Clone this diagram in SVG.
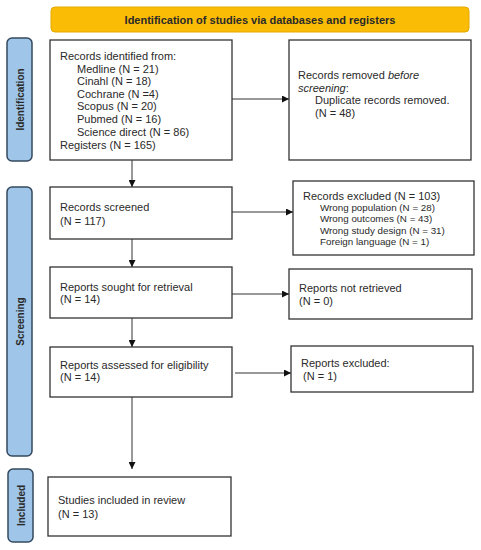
<svg xmlns="http://www.w3.org/2000/svg" width="481" height="550" viewBox="0 0 481 550">
<style>
text{font-family:"Liberation Sans",Arial,sans-serif;fill:#2a2a2a}
.box{fill:#fff;stroke:#333;stroke-width:1.3}
.side{fill:#9fc5e8;stroke:#34495e;stroke-width:1.5}
.lbl{font-size:10px;font-weight:bold;text-anchor:middle}
.t{font-size:11px}
.s{font-size:9.8px}
.c{fill:none;stroke:#333;stroke-width:1}
</style>
<defs>
<marker id="ah" viewBox="0 0 10 10" refX="10" refY="5" markerWidth="7" markerHeight="7" markerUnits="userSpaceOnUse" orient="auto">
<path d="M0,0L10,5L0,10z" fill="#111"/>
</marker>
</defs>
<g id="banner">
<rect x="51" y="7" width="418" height="25" rx="4" fill="#fbbc05" stroke="#e3a900" stroke-width="1"/>
<text x="260" y="24" class="lbl" style="font-size:11px">Identification of studies via databases and registers</text>
</g>
<g id="side-identification">
<rect x="7" y="38" width="25" height="123" rx="5" class="side"/>
<text class="lbl" transform="translate(23.5,99.5) rotate(-90)">Identification</text>
</g>
<g id="side-screening">
<rect x="7" y="187" width="25" height="269" rx="5" class="side"/>
<text class="lbl" transform="translate(23.5,321.5) rotate(-90)">Screening</text>
</g>
<g id="side-included">
<rect x="8" y="469" width="25" height="73" rx="5" class="side"/>
<text class="lbl" transform="translate(24.5,505.5) rotate(-90)">Included</text>
</g>
<g id="records-identified">
<rect x="50" y="40" width="182" height="120" class="box"/>
<text class="t" x="60" y="60">Records identified from:</text>
<text class="t" x="77" y="73">Medline (N = 21)</text>
<text class="t" x="77" y="85">Cinahl (N = 18)</text>
<text class="t" x="77" y="98">Cochrane (N =4)</text>
<text class="t" x="77" y="110">Scopus (N = 20)</text>
<text class="t" x="77" y="123">Pubmed (N = 16)</text>
<text class="t" x="77" y="136">Science direct (N = 86)</text>
<text class="t" x="60" y="149">Registers (N = 165)</text>
</g>
<g id="records-removed">
<rect x="289" y="40" width="182" height="120" class="box"/>
<text class="t" x="298" y="79">Records removed <tspan font-style="italic">before</tspan></text>
<text class="t" x="298" y="92"><tspan font-style="italic">screening</tspan>:</text>
<text class="t" x="315" y="104">Duplicate records removed.</text>
<text class="t" x="315" y="117">(N = 48)</text>
</g>
<g id="records-screened">
<rect x="50" y="187" width="182" height="52" class="box"/>
<text class="t" x="60" y="211">Records screened</text>
<text class="t" x="60" y="225">(N = 117)</text>
</g>
<g id="records-excluded">
<rect x="293" y="181" width="181" height="74" class="box"/>
<text class="t" x="303" y="200">Records excluded (N = 103)</text>
<text class="s" x="320" y="211">Wrong population (N = 28)</text>
<text class="s" x="320" y="222">Wrong outcomes (N = 43)</text>
<text class="s" x="320" y="234">Wrong study design (N = 31)</text>
<text class="s" x="320" y="245">Foreign language (N = 1)</text>
</g>
<g id="reports-sought">
<rect x="50" y="267" width="182" height="51" class="box"/>
<text class="t" x="60" y="291">Reports sought for retrieval</text>
<text class="t" x="60" y="303">(N = 14)</text>
</g>
<g id="reports-not-retrieved">
<rect x="289" y="269" width="183" height="50" class="box"/>
<text class="t" x="299" y="292">Reports not retrieved</text>
<text class="t" x="299" y="305">(N = 0)</text>
</g>
<g id="reports-assessed">
<rect x="50" y="347" width="182" height="50" class="box"/>
<text class="t" x="60" y="369">Reports assessed for eligibility</text>
<text class="t" x="60" y="381">(N = 14)</text>
</g>
<g id="reports-excluded">
<rect x="291" y="346" width="182" height="46" class="box"/>
<text class="t" x="301" y="367">Reports excluded:</text>
<text class="t" x="303" y="380">(N = 1)</text>
</g>
<g id="studies-included">
<rect x="48" y="477" width="183" height="59" class="box"/>
<text class="t" x="58" y="504">Studies included in review</text>
<text class="t" x="58" y="518">(N = 13)</text>
</g>
<g id="connectors">
<path class="c" d="M232,99H289" marker-end="url(#ah)"/>
<path class="c" d="M132,160V187" marker-end="url(#ah)"/>
<path class="c" d="M232,212H293" marker-end="url(#ah)"/>
<path class="c" d="M132,239V267" marker-end="url(#ah)"/>
<path class="c" d="M232,294H289" marker-end="url(#ah)"/>
<path class="c" d="M132,318V347" marker-end="url(#ah)"/>
<path class="c" d="M235,373H291" marker-end="url(#ah)"/>
<path class="c" d="M132,397V469" marker-end="url(#ah)"/>
</g>
</svg>
